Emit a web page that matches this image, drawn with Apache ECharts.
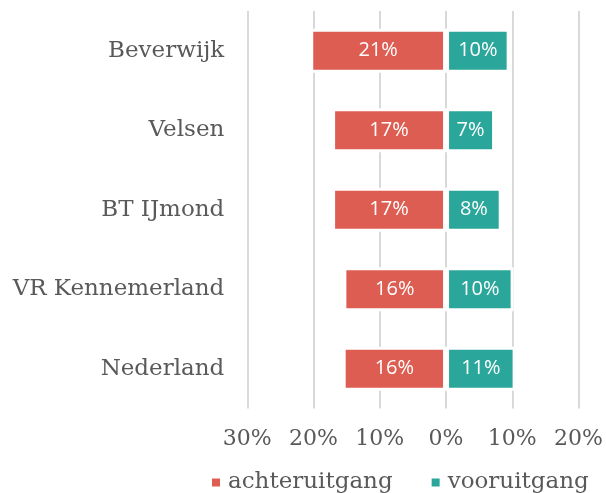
<!DOCTYPE html>
<html>
<head>
<meta charset="utf-8">
<script src="https://cdn.jsdelivr.net/npm/echarts@6/dist/echarts.min.js"></script>
<style>
html,body{margin:0;padding:0;background:#fff;}
#chart{width:606px;height:493px;}
</style>
</head>
<body>
<div id="chart"></div>
<script>
var categories = ['Beverwijk', 'Velsen', 'BT IJmond', 'VR Kennemerland', 'Nederland'];
var achteruitgang = [-20.5, -17.2, -17.2, -15.5, -15.6];
var vooruitgang = [9.6, 7.4, 8.4, 10.2, 10.5];
var seriesNames = ['achteruitgang', 'vooruitgang'];

var serif = '"DejaVu Serif", serif';
var sans = '"Open Sans", sans-serif';
var textColor = '#595959';

function pctLabel(p) { return Math.round(Math.abs(p.value)) + '%'; }

var chart = echarts.init(document.getElementById('chart'), null, {renderer: 'canvas'});
chart.setOption({
  animation: false,
  backgroundColor: '#ffffff',
  grid: {left: 247.3, right: 26.7, top: 11, bottom: 84.5, containLabel: false},
  legend: {
    data: seriesNames,
    left: 210,
    top: 471,
    padding: 0,
    icon: 'rect',
    itemWidth: 10,
    itemHeight: 10,
    itemGap: 37,
    textStyle: {fontFamily: serif, fontSize: 23, color: textColor, padding: [2, 0, 0, 2]}
  },
  xAxis: {
    type: 'value',
    min: -30,
    max: 20,
    interval: 10,
    axisLine: {show: false},
    axisTick: {show: false},
    splitLine: {show: true, lineStyle: {color: '#d9d9d9', width: 2}},
    axisLabel: {
      margin: 20,
      fontFamily: serif,
      fontSize: 22,
      color: textColor,
      formatter: function (v) { return Math.abs(v) + '%'; }
    }
  },
  yAxis: {
    type: 'category',
    data: categories,
    inverse: true,
    axisLine: {show: false},
    axisTick: {show: false},
    axisLabel: {margin: 23, fontFamily: serif, fontSize: 23, color: textColor}
  },
  series: [
    {
      name: seriesNames[0],
      type: 'bar',
      stack: 'total',
      data: achteruitgang,
      barWidth: 44,
      itemStyle: {color: '#de5d52', borderColor: '#ffffff', borderWidth: 3},
      label: {show: true, position: 'inside', color: '#ffffff', fontFamily: sans, fontSize: 20, formatter: pctLabel}
    },
    {
      name: seriesNames[1],
      type: 'bar',
      stack: 'total',
      data: vooruitgang,
      barWidth: 44,
      itemStyle: {color: '#2ba69a', borderColor: '#ffffff', borderWidth: 3},
      label: {show: true, position: 'inside', color: '#ffffff', fontFamily: sans, fontSize: 20, formatter: pctLabel}
    }
  ]
});
</script>
</body>
</html>
